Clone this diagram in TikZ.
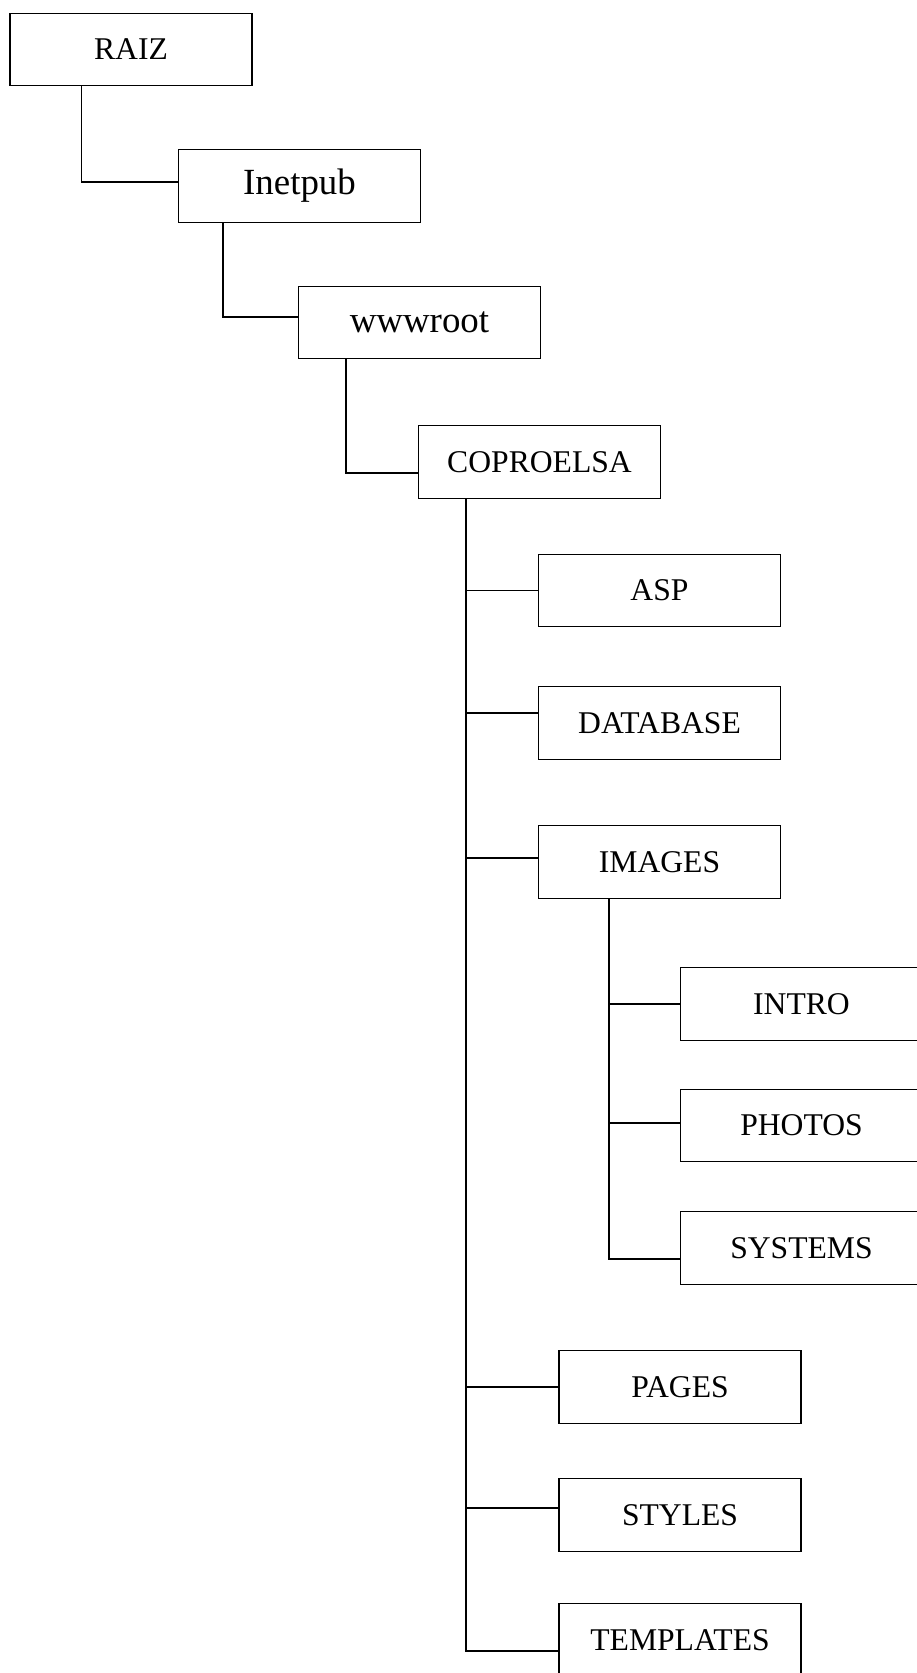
\documentclass[tikz,border=0pt]{standalone}
\usepackage{fontspec}
\setmainfont{Liberation Serif}
\tikzset{
    folder/.style={draw,line width=0.8pt,minimum width=4.84cm,minimum height=1.45cm,inner sep=0pt,font=\fontsize{18}{20}\selectfont},
    bigfolder/.style={folder,font=\fontsize{21}{23}\selectfont},
    branch/.style={line width=0.8pt}
}
\begin{document}
\begin{tikzpicture}
        \useasboundingbox (0,0) rectangle (18.34,-33.46);

        \node[folder] (raiz) at (2.62,-0.99) {RAIZ};
        \node[bigfolder] (inetpub) at (5.99,-3.72) {Inetpub};
        \node[bigfolder] (wwwroot) at (8.39,-6.45) {wwwroot};
        \node[folder] (coproelsa) at (10.79,-9.24) {COPROELSA};

        \node[folder] (asp) at (13.19,-11.81) {ASP};
        \node[folder] (database) at (13.19,-14.46) {DATABASE};
        \node[folder] (images) at (13.19,-17.24) {IMAGES};

        \node[folder] (intro) at (16.03,-20.08) {INTRO};
        \node[folder] (photos) at (16.03,-22.51) {PHOTOS};
        \node[folder] (systems) at (16.03,-24.96) {SYSTEMS};

        \node[folder] (pages) at (13.6,-27.74) {PAGES};
        \node[folder] (styles) at (13.6,-30.3) {STYLES};
        \node[folder] (templates) at (13.6,-32.8) {TEMPLATES};

        \draw[branch] ([xshift=1.44cm]raiz.south west) |- ([yshift=0.08cm]inetpub.west);
        \draw[branch] ([xshift=0.9cm]inetpub.south west) |- ([yshift=0.11cm]wwwroot.west);
        \draw[branch] ([xshift=0.96cm]wwwroot.south west) |- ([yshift=-0.22cm]coproelsa.west);

        \coordinate (trunk) at ([xshift=0.96cm]coproelsa.south west);
        \draw[branch] (trunk) |- ([yshift=-0.22cm]templates.west);
        \foreach \n/\dy in {asp/0,database/0.2,images/0.08,pages/0,styles/0.14}
            \draw[branch] ([yshift=\dy cm]\n.west) -- ([yshift=\dy cm]\n.west -| trunk);

        \coordinate (subtrunk) at ([xshift=1.42cm]images.south west);
        \draw[branch] (subtrunk) |- ([yshift=-0.22cm]systems.west);
        \foreach \n/\dy in {intro/0,photos/0.05}
            \draw[branch] ([yshift=\dy cm]\n.west) -- ([yshift=\dy cm]\n.west -| subtrunk);

    \end{tikzpicture}
\end{document}
